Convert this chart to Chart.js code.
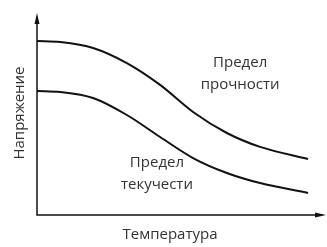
<!DOCTYPE html>
<html>
<head>
<meta charset="utf-8">
<script src="https://cdn.jsdelivr.net/npm/chart.js@4"></script>
<style>
  html, body { margin: 0; padding: 0; background: #fff; }
  canvas { display: block; }
</style>
</head>
<body>
<canvas id="chart" width="327" height="247"></canvas>
<script>
// Temperature (relative units) and stress (relative units)
const temperature = [0, 8, 19.4, 31.1, 42.6, 54, 65.7, 77.2, 93.8];
const ultimateStrength = [86.1, 85.6, 82.7, 75.2, 64.4, 51.0, 40.6, 33.7, 27.7];
const yieldStrength = [61.4, 60.9, 57.9, 49.5, 38.6, 28.2, 20.8, 15.8, 10.9];

const xTitle = 'Температура';
const yTitle = 'Напряжение';
const curveLabels = [
  { lines: ['Предел', 'прочности'], x: 70.3, y: 69.8 },
  { lines: ['Предел', 'текучести'], x: 41.5, y: 20.3 }
];

const toPoints = (xs, ys) => xs.map((x, i) => ({ x: x, y: ys[i] }));

const font = '15px "Open Sans", "Noto Sans", sans-serif';
const textColor = '#333';

// axes with arrows, axis titles and curve labels
const decorations = {
  id: 'decorations',
  afterDraw(chart) {
    const ctx = chart.ctx;
    const area = chart.chartArea;
    const xs = chart.scales.x;
    const ys = chart.scales.y;
    ctx.save();
    ctx.strokeStyle = '#111';
    ctx.fillStyle = '#111';
    ctx.lineWidth = 1.5;

    ctx.beginPath();
    ctx.moveTo(area.left, area.top + 4);
    ctx.lineTo(area.left, area.bottom);
    ctx.lineTo(area.right - 4, area.bottom);
    ctx.stroke();

    // arrow heads
    ctx.beginPath();
    ctx.moveTo(area.left, area.top);
    ctx.lineTo(area.left - 2.5, area.top + 11);
    ctx.lineTo(area.left + 2.5, area.top + 11);
    ctx.closePath();
    ctx.fill();
    ctx.beginPath();
    ctx.moveTo(area.right, area.bottom);
    ctx.lineTo(area.right - 11, area.bottom - 2.5);
    ctx.lineTo(area.right - 11, area.bottom + 2.5);
    ctx.closePath();
    ctx.fill();

    ctx.font = font;
    ctx.fillStyle = textColor;
    ctx.textAlign = 'center';
    ctx.textBaseline = 'middle';
    ctx.fillText(xTitle, 170, area.bottom + 20);

    ctx.save();
    ctx.translate(20, 113);
    ctx.rotate(-Math.PI / 2);
    ctx.fillText(yTitle, 0, 0);
    ctx.restore();

    curveLabels.forEach(lbl => {
      const px = xs.getPixelForValue(lbl.x);
      const py = ys.getPixelForValue(lbl.y);
      lbl.lines.forEach((line, i) => {
        ctx.fillText(line, px, py + (i - 0.5) * 22);
      });
    });
    ctx.restore();
  }
};

new Chart(document.getElementById('chart'), {
  type: 'line',
  data: {
    datasets: [
      { data: toPoints(temperature, ultimateStrength) },
      { data: toPoints(temperature, yieldStrength) }
    ]
  },
  options: {
    responsive: false,
    animation: false,
    layout: { padding: { left: 37, right: 1, top: 13, bottom: 32 } },
    elements: {
      line: { borderColor: '#111', borderWidth: 2, cubicInterpolationMode: 'monotone' },
      point: { radius: 0 }
    },
    scales: {
      x: { type: 'linear', min: 0, max: 100, display: false },
      y: { type: 'linear', min: 0, max: 100, display: false }
    },
    plugins: { legend: { display: false }, tooltip: { enabled: false } }
  },
  plugins: [decorations]
});
</script>
</body>
</html>
